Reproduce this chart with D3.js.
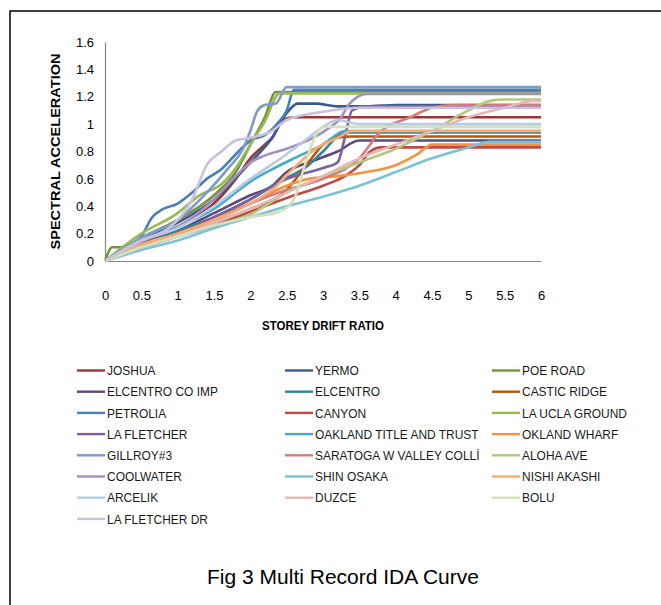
<!DOCTYPE html>
<html>
<head>
<meta charset="utf-8">
<script src="https://cdn.jsdelivr.net/npm/d3@7"></script>
<style>
  body { margin: 0; background: #fff; }
  svg text { font-family: "Liberation Sans", Arial, sans-serif; }
</style>
</head>
<body>
<div id="chart"></div>
<script>
// record names, in legend order
const seriesNames = [
  "JOSHUA", "YERMO", "POE ROAD",
  "ELCENTRO CO IMP", "ELCENTRO", "CASTIC RIDGE",
  "PETROLIA", "CANYON", "LA UCLA GROUND",
  "LA FLETCHER", "OAKLAND TITLE AND TRUST", "OKLAND WHARF",
  "GILLROY#3", "SARATOGA W VALLEY COLLİ", "ALOHA AVE",
  "COOLWATER", "SHIN OSAKA", "NISHI AKASHI",
  "ARCELIK", "DUZCE", "BOLU",
  "LA FLETCHER DR"
];

const seriesColors = [
  "#953735", "#3b5b8e", "#77933c",
  "#5f497a", "#31859c", "#b65708",
  "#4a7ebb", "#be4b48", "#98b954",
  "#7d60a0", "#46aac5", "#f69240",
  "#7e9bcb", "#d07d7b", "#b0c97c",
  "#a390c2", "#7bc1d7", "#f9aa72",
  "#b7cbe4", "#e3b8b7", "#d3e0bb",
  "#cbc1db"
];

// storey drift ratio (%) -> spectral acceleration (g)
const idaCurves = [
  [[0,0],[0.5,0.13],[1,0.25],[1.5,0.42],[1.8,0.6],[2,0.75],[2.2,0.85],[2.3,0.9],[2.45,1.03],[2.6,1.05],[6,1.05]],
  [[0,0],[0.5,0.15],[1,0.28],[1.5,0.45],[2,0.72],[2.3,0.9],[2.5,1.08],[2.65,1.15],[2.9,1.15],[3.2,1.13],[3.6,1.13],[4,1.14],[6,1.14]],
  [[0,0],[0.1,0.1],[0.25,0.1],[0.5,0.17],[1,0.3],[1.5,0.48],[1.8,0.65],[2,0.85],[2.2,1.05],[2.35,1.235],[6,1.235]],
  [[0,0],[0.5,0.12],[1,0.22],[1.5,0.35],[2,0.48],[2.3,0.55],[2.5,0.65],[2.8,0.72],[3.2,0.8],[3.5,0.88],[6,0.88]],
  [[0,0],[0.5,0.12],[1,0.22],[1.5,0.32],[2,0.45],[2.4,0.58],[2.8,0.7],[3,0.8],[3.3,0.94],[6,0.94]],
  [[0,0],[0.5,0.1],[1,0.18],[1.5,0.28],[2,0.38],[2.5,0.52],[2.8,0.72],[3,0.85],[3.2,0.9],[3.4,0.91],[6,0.91]],
  [[0,0],[0.3,0.1],[0.5,0.18],[0.65,0.32],[0.8,0.38],[1,0.42],[1.2,0.5],[1.4,0.6],[1.6,0.67],[1.8,0.78],[2,0.88],[2.2,0.92],[2.4,1.02],[2.5,1.1],[2.6,1.25],[6,1.25]],
  [[0,0],[0.5,0.1],[1,0.18],[1.5,0.26],[2,0.36],[2.5,0.46],[3,0.55],[3.3,0.62],[3.5,0.7],[3.65,0.8],[3.8,0.83],[6,0.83]],
  [[0,0],[0.5,0.2],[1,0.35],[1.3,0.48],[1.6,0.56],[1.8,0.68],[2,0.85],[2.2,1.02],[2.4,1.225],[6,1.225]],
  [[0,0],[0.5,0.12],[1,0.2],[1.5,0.32],[2,0.45],[2.5,0.6],[3,0.68],[3.2,0.72],[3.3,0.9],[3.4,1.1],[3.6,1.13],[6,1.13]],
  [[0,0],[0.5,0.15],[1,0.25],[1.5,0.38],[1.8,0.5],[2,0.58],[2.3,0.67],[2.6,0.75],[3,0.85],[3.3,0.95],[6,0.95]],
  [[0,0],[0.5,0.1],[1,0.2],[1.5,0.3],[2,0.42],[2.5,0.55],[2.8,0.6],[3.2,0.62],[3.6,0.65],[4,0.7],[4.3,0.78],[4.5,0.85],[6,0.85]],
  [[0,0],[0.5,0.17],[1,0.3],[1.4,0.5],[1.7,0.68],[1.9,0.82],[2,0.95],[2.1,1.1],[2.2,1.14],[2.35,1.15],[2.5,1.27],[6,1.27]],
  [[0,0],[0.5,0.1],[1,0.18],[1.5,0.3],[2,0.42],[2.5,0.52],[3,0.6],[3.5,0.75],[3.8,0.95],[4.2,1.05],[4.5,1.12],[4.8,1.14],[6,1.14]],
  [[0,0],[0.5,0.1],[1,0.18],[1.5,0.26],[2,0.34],[2.5,0.5],[3,0.62],[3.5,0.72],[4,0.82],[4.5,0.95],[5,1.1],[5.3,1.17],[5.5,1.18],[6,1.18]],
  [[0,0],[0.5,0.14],[1,0.25],[1.5,0.45],[1.8,0.62],[2,0.72],[2.2,0.77],[2.5,0.82],[2.7,0.86],[3.05,0.96],[3.25,1.05],[3.35,1.14],[3.45,1.19],[3.6,1.22],[6,1.22]],
  [[0,0],[0.5,0.08],[1,0.15],[1.5,0.24],[2,0.32],[2.5,0.4],[3,0.47],[3.5,0.55],[4,0.65],[4.5,0.75],[5,0.83],[5.3,0.87],[6,0.87]],
  [[0,0],[0.5,0.12],[1,0.2],[1.5,0.3],[2,0.42],[2.3,0.52],[2.6,0.68],[2.9,0.82],[3.2,0.9],[3.4,0.95],[6,0.95]],
  [[0,0],[0.5,0.15],[1,0.24],[1.5,0.4],[2,0.6],[2.5,0.78],[2.8,0.9],[3,0.98],[3.2,1.03],[3.5,1],[6,1]],
  [[0,0],[0.5,0.1],[1,0.18],[1.5,0.28],[2,0.38],[2.5,0.5],[3,0.62],[3.5,0.75],[4,0.85],[4.5,0.95],[5,1.05],[5.5,1.12],[5.9,1.17],[6,1.17]],
  [[0,0],[0.5,0.1],[1,0.18],[1.5,0.26],[2,0.32],[2.4,0.36],[2.6,0.45],[2.75,0.7],[2.9,0.92],[3,0.98],[6,0.98]],
  [[0,0],[0.5,0.15],[0.9,0.25],[1.2,0.45],[1.4,0.7],[1.6,0.8],[1.8,0.88],[2,0.9],[2.3,0.95],[2.5,1.03],[3,1.09],[3.5,1.12],[6,1.12]]
];

const xTicks = [0, 0.5, 1, 1.5, 2, 2.5, 3, 3.5, 4, 4.5, 5, 5.5, 6];
const yTicks = [0, 0.2, 0.4, 0.6, 0.8, 1, 1.2, 1.4, 1.6];

const W = 661, H = 605;
const plot = { left: 105, right: 541, top: 42, bottom: 261 };

const svg = d3.select("#chart").append("svg")
  .attr("width", W)
  .attr("height", H);

// outer frame of the figure (right / bottom edge run off the page)
svg.append("rect")
  .attr("x", 10).attr("y", 11)
  .attr("width", 700).attr("height", 700)
  .attr("fill", "none")
  .attr("stroke", "#000")
  .attr("stroke-width", 1.5);

const x = d3.scaleLinear().domain([0, 6]).range([plot.left, plot.right]);
const y = d3.scaleLinear().domain([0, 1.6]).range([plot.bottom, plot.top]);

// axes: plain grey lines, labels only
const xAxis = svg.append("g")
  .attr("transform", `translate(0,${plot.bottom})`)
  .call(d3.axisBottom(x).tickValues(xTicks).tickSize(0).tickPadding(30)
    .tickFormat(d => d3.format("")(d)));
xAxis.select(".domain").attr("stroke", "#868686").attr("stroke-width", 1.2);
xAxis.selectAll("text").attr("font-size", 13).attr("fill", "#000");

const yAxis = svg.append("g")
  .attr("transform", `translate(${plot.left},0)`)
  .call(d3.axisLeft(y).tickValues(yTicks).tickSize(0).tickPadding(11)
    .tickFormat(d => d3.format("")(d)));
yAxis.select(".domain").attr("stroke", "#868686").attr("stroke-width", 1.2);
yAxis.selectAll("text").attr("font-size", 13).attr("fill", "#000");

svg.append("text")
  .attr("x", (plot.left + plot.right) / 2)
  .attr("y", 330)
  .attr("text-anchor", "middle")
  .attr("font-size", 13)
  .attr("font-weight", "bold")
  .attr("textLength", 122)
  .attr("lengthAdjust", "spacingAndGlyphs")
  .text("STOREY DRIFT RATIO");

svg.append("text")
  .attr("transform", `translate(60,${(plot.top + plot.bottom) / 2}) rotate(-90)`)
  .attr("text-anchor", "middle")
  .attr("font-size", 13)
  .attr("font-weight", "bold")
  .attr("textLength", 196)
  .attr("lengthAdjust", "spacingAndGlyphs")
  .text("SPECTRAL ACCELERATION");

// curves
const line = d3.line()
  .x(d => x(d[0]))
  .y(d => y(d[1]))
  .curve(d3.curveMonotoneX);

svg.append("g")
  .selectAll("path")
  .data(idaCurves)
  .join("path")
  .attr("d", line)
  .attr("fill", "none")
  .attr("stroke", (d, i) => seriesColors[i])
  .attr("stroke-width", 2.6)
  .attr("stroke-linejoin", "round");

// legend, three columns filled row by row
const colX = [77, 285, 492];
const legend = svg.append("g")
  .selectAll("g")
  .data(seriesNames)
  .join("g")
  .attr("transform", (d, i) => `translate(${colX[i % 3]},${370.5 + Math.floor(i / 3) * 21.2})`);

legend.append("line")
  .attr("x1", 0).attr("x2", 28)
  .attr("stroke", (d, i) => seriesColors[i])
  .attr("stroke-width", 2.4);

legend.append("text")
  .attr("transform", "translate(30,0) scale(0.92,1)")
  .attr("dy", "0.36em")
  .attr("font-size", 13)
  .attr("fill", "#1a1a1a")
  .text(d => d);

svg.append("text")
  .attr("x", 343)
  .attr("y", 584)
  .attr("text-anchor", "middle")
  .attr("font-size", 21)
  .text("Fig 3 Multi Record IDA Curve");
</script>
</body>
</html>
